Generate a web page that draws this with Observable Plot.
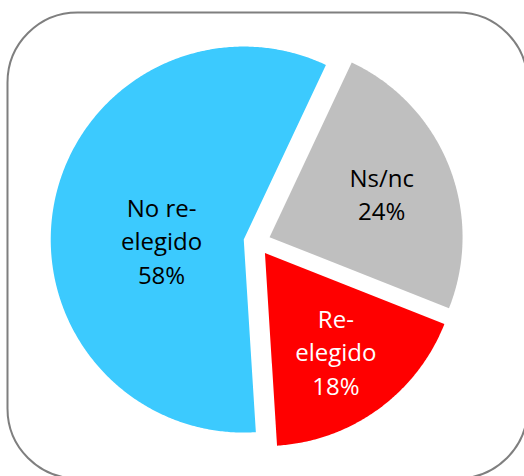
<!DOCTYPE html>
<html><head><meta charset="utf-8">
<script src="https://cdn.jsdelivr.net/npm/d3@7"></script>
<script src="https://cdn.jsdelivr.net/npm/@observablehq/plot@0.6"></script>
<style>html,body{margin:0;padding:0;background:#fff;overflow:hidden}</style>
</head><body><div id="chart"></div>
<script>
const categories = ["Ns/nc", "Re-elegido", "No re-elegido"];
const labels = ["Ns/nc\n24%", "Re-\nelegido\n18%", "No re-\nelegido\n58%"];
const values = [24, 18, 58];
const colors = ["#bfbfbf", "#ff0000", "#3ccafe"];
const textColors = ["black", "white", "black"];

const W = 524, H = 476, R = 193, cx = 256.5, cy = 241.6;
const startAngle = 25.2 * Math.PI / 180;
const explode = 13.5 / R;

const rows = categories.map((c, i) => ({category: c, value: values[i], label: labels[i], textColor: textColors[i]}));
const arcs = d3.pie().sort(null).value(d => d.value)
  .startAngle(startAngle).endAngle(startAngle + 2 * Math.PI)(rows);

const points = [];
const labelRows = [];
arcs.forEach(a => {
  const c = a.data.category;
  const mid = (a.startAngle + a.endAngle) / 2;
  const ox = explode * Math.sin(mid), oy = explode * Math.cos(mid);
  points.push({category: c, x: ox, y: oy});
  const n = Math.ceil((a.endAngle - a.startAngle) / (Math.PI / 360));
  for (let k = 0; k <= n; k++) {
    const t = a.startAngle + (a.endAngle - a.startAngle) * k / n;
    points.push({category: c, x: ox + Math.sin(t), y: oy + Math.cos(t)});
  }
  const big = (a.endAngle - a.startAngle) > Math.PI;
  const la = big ? 1.5 * Math.PI : mid;
  const lr = big ? 0.426 : 0.625;
  labelRows.push({...a.data, x: ox + lr * Math.sin(la), y: oy + lr * Math.cos(la)});
});

const font = {fontFamily: "'Open Sans', sans-serif", fontSize: 24, lineHeight: 1.404};

const chart = Plot.plot({
  width: W, height: H, margin: 0,
  style: {overflow: "hidden", background: "white"},
  x: {domain: [-cx / R, (W - cx) / R], axis: null},
  y: {domain: [-(H - cy) / R, cy / R], axis: null},
  color: {domain: categories, range: colors},
  marks: [
    Plot.line(points, {x: "x", y: "y", z: "category", fill: "category", stroke: null}),
    Plot.text(labelRows.filter(d => d.textColor === "black"), {x: "x", y: "y", text: "label", fill: "black", ...font}),
    Plot.text(labelRows.filter(d => d.textColor === "white"), {x: "x", y: "y", text: "label", fill: "white", ...font}),
    Plot.frame({stroke: "#7f7f7f", strokeWidth: 2, rx: 70, ry: 70, insetLeft: 7, insetTop: 12, insetRight: -3, insetBottom: -2})
  ]
});
document.getElementById("chart").appendChild(chart);
</script>
</body></html>
